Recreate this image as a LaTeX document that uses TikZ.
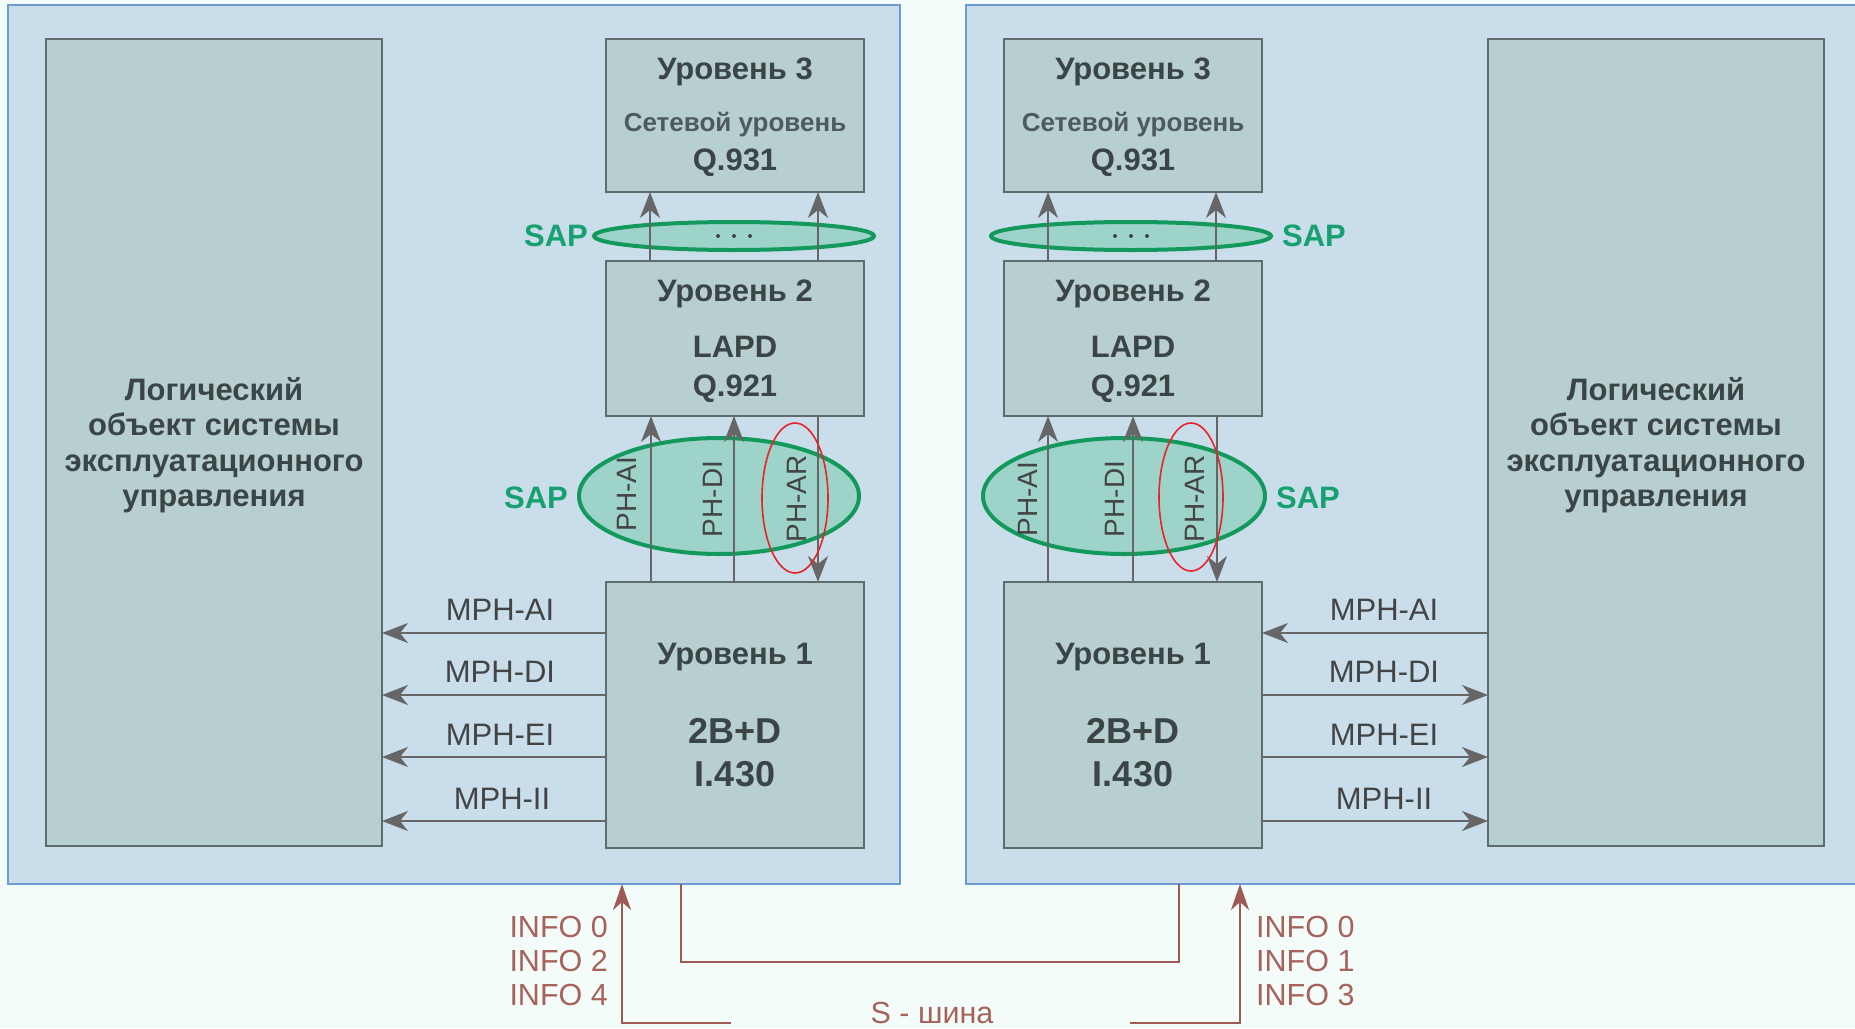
\documentclass[tikz,border=0pt]{standalone}
\usepackage{fontspec}
\setmainfont{Liberation Sans}
\usetikzlibrary{arrows.meta,calc,shapes.geometric}

\definecolor{pagebg}{HTML}{F3FCF8}
\definecolor{panelfill}{HTML}{C9DEEA}
\definecolor{paneledge}{HTML}{6C9CD6}
\definecolor{boxfill}{HTML}{B8CFD2}
\definecolor{boxedge}{HTML}{5E6C6C}
\definecolor{boxtext}{HTML}{3B4545}
\definecolor{subtext}{HTML}{4E5B5B}
\definecolor{sapfill}{HTML}{9DD3C9}
\definecolor{sapedge}{HTML}{12995B}
\definecolor{saptext}{HTML}{17A070}
\definecolor{redline}{HTML}{E8232A}
\definecolor{arrowgray}{HTML}{666666}
\definecolor{labeltext}{HTML}{444444}
\definecolor{busline}{HTML}{A05A55}
\definecolor{bustext}{HTML}{A8625C}

\tikzset{
  panel/.style={draw=paneledge, fill=panelfill, line width=2pt, inner sep=0pt, outer sep=0pt},
  layerbox/.style={draw=boxedge, fill=boxfill, line width=2pt, inner sep=0pt, outer sep=0pt},
  ttl/.style={font=\fontsize{31}{37}\selectfont\bfseries, text=boxtext, inner sep=0pt},
  subttl/.style={font=\fontsize{26}{31}\selectfont\bfseries, text=subtext, inner sep=0pt},
  stdttl/.style={font=\fontsize{36}{42}\selectfont\bfseries, text=boxtext, inner sep=0pt},
  bigttl/.style={font=\fontsize{31}{35.5}\selectfont\bfseries, text=boxtext, align=center, inner sep=0pt},
  sapring/.style={ellipse, draw=sapedge, fill=sapfill, line width=4pt, inner sep=0pt, outer sep=0pt},
  redring/.style={ellipse, draw=redline, line width=1.6pt, inner sep=0pt},
  saplbl/.style={font=\fontsize{31}{36}\selectfont\bfseries, text=saptext, inner sep=0pt},
  phlbl/.style={font=\fontsize{28}{33}\selectfont, text=labeltext, rotate=90, inner sep=0pt},
  mphlbl/.style={font=\fontsize{31}{36}\selectfont, text=labeltext, inner sep=0pt},
  link/.style={draw=arrowgray, line width=2pt, -{Stealth[length=26pt,width=20pt,inset=8pt]}},
  bus/.style={draw=busline, line width=2.4pt},
  busarrow/.style={bus, -{Stealth[length=26pt,width=18pt,inset=8pt]}},
  infotxt/.style={font=\fontsize{30.5}{34}\selectfont, text=bustext, inner sep=0pt},
  dotmark/.style={fill=boxtext, circle, inner sep=0pt, minimum size=4pt},
}

\begin{document}
\begin{tikzpicture}[x=1pt, y=-1pt]
\useasboundingbox (0,0) rectangle (1855,1028);
\fill[pagebg] (0,0) rectangle (1855,1028);

% two stations
\node[panel, minimum width=892pt, minimum height=879pt] (lp) at (454,444.5) {};
\node[panel, minimum width=909pt, minimum height=879pt] (rp) at (1420.5,444.5) {};

% management entity blocks
\node[layerbox, minimum width=336pt, minimum height=807pt] (bbL) at (214,442.5) {};
\node[bigttl] at (214,445) {Логический\\объект системы\\эксплуатационного\\управления};
\node[layerbox, minimum width=336pt, minimum height=807pt] (bbR) at (1656,442.5) {};
\node[bigttl] at (1656,445) {Логический\\объект системы\\эксплуатационного\\управления};

% protocol layers, left station
\node[layerbox, minimum width=258pt, minimum height=153pt] (l3L) at (735,115.5) {};
\node[layerbox, minimum width=258pt, minimum height=155pt] (l2L) at (735,338.5) {};
\node[layerbox, minimum width=258pt, minimum height=266pt] (l1L) at (735,715) {};
% protocol layers, right station
\node[layerbox, minimum width=258pt, minimum height=153pt] (l3R) at (1133,115.5) {};
\node[layerbox, minimum width=258pt, minimum height=155pt] (l2R) at (1133,338.5) {};
\node[layerbox, minimum width=258pt, minimum height=266pt] (l1R) at (1133,715) {};

% layer captions
\foreach \cx in {735,1133}{
  \node[ttl] at (\cx,72) {Уровень 3};
  \node[subttl] at (\cx,125) {Сетевой уровень};
  \node[ttl] at (\cx,163) {Q.931};
  \node[ttl] at (\cx,294) {Уровень 2};
  \node[ttl] at (\cx,347) {LAPD};
  \node[ttl] at (\cx,389) {Q.921};
  \node[ttl] at (\cx,657) {Уровень 1};
  \node[stdttl] at (\cx,731) {2B+D};
  \node[stdttl] at (\cx,774) {I.430};
}

% service access points
\node[sapring, minimum width=280pt, minimum height=28pt] (sapTopL) at (734,236) {};
\node[sapring, minimum width=280pt, minimum height=28pt] (sapTopR) at (1131,236) {};
\foreach \cx in {734,1131}{
  \node[dotmark] at (\cx-16,236) {};
  \node[dotmark] at (\cx,236) {};
  \node[dotmark] at (\cx+16,236) {};
}
\node[sapring, minimum width=280pt, minimum height=116pt] (sapL) at (719,496) {};
\node[sapring, minimum width=282pt, minimum height=116pt] (sapR) at (1124,496) {};

\node[saplbl] at (556,236) {SAP};
\node[saplbl] at (536,498) {SAP};
\node[saplbl] at (1314,236) {SAP};
\node[saplbl] at (1308,498) {SAP};

% primitives between layer 2 and layer 3
\draw[link] ($(l2L.north west)+(44,0)$) -- ($(l3L.south west)+(44,0)$);
\draw[link] ($(l2L.north west)+(212,0)$) -- ($(l3L.south west)+(212,0)$);
\draw[link] ($(l2R.north west)+(44,0)$) -- ($(l3R.south west)+(44,0)$);
\draw[link] ($(l2R.north west)+(212,0)$) -- ($(l3R.south west)+(212,0)$);

% PH primitives between layer 1 and layer 2
\draw[link] ($(l1L.north west)+(45,0)$) -- ($(l2L.south west)+(45,0)$);
\draw[link] ($(l1L.north west)+(128,0)$) -- ($(l2L.south west)+(128,0)$);
\draw[link] ($(l2L.south west)+(212,0)$) -- ($(l1L.north west)+(212,0)$);
\draw[link] ($(l1R.north west)+(44,0)$) -- ($(l2R.south west)+(44,0)$);
\draw[link] ($(l1R.north west)+(129,0)$) -- ($(l2R.south west)+(129,0)$);
\draw[link] ($(l2R.south west)+(213,0)$) -- ($(l1R.north west)+(213,0)$);

\node[phlbl] at (627,494) {PH-AI};
\node[phlbl] at (713,499) {PH-DI};
\node[phlbl] at (797,499) {PH-AR};
\node[phlbl] at (1028,499) {PH-AI};
\node[phlbl] at (1115,499) {PH-DI};
\node[phlbl] at (1195,499) {PH-AR};

\node[redring, minimum width=66pt, minimum height=150pt] (markL) at (795,498) {};
\node[redring, minimum width=64pt, minimum height=148pt] (markR) at (1191,497) {};

% MPH primitives to the management entity
\coordinate (ya) at (0,633);
\coordinate (yb) at (0,695);
\coordinate (yc) at (0,757);
\coordinate (yd) at (0,821);

\draw[link] (l1L.west |- ya) -- (bbL.east |- ya);
\draw[link] (l1L.west |- yb) -- (bbL.east |- yb);
\draw[link] (l1L.west |- yc) -- (bbL.east |- yc);
\draw[link] (l1L.west |- yd) -- (bbL.east |- yd);
\node[mphlbl] at (500,610) {MPH-AI};
\node[mphlbl] at (500,672) {MPH-DI};
\node[mphlbl] at (500,735) {MPH-EI};
\node[mphlbl] at (502,799) {MPH-II};

\draw[link] (bbR.west |- ya) -- (l1R.east |- ya);
\draw[link] (l1R.east |- yb) -- (bbR.west |- yb);
\draw[link] (l1R.east |- yc) -- (bbR.west |- yc);
\draw[link] (l1R.east |- yd) -- (bbR.west |- yd);
\node[mphlbl] at (1384,610) {MPH-AI};
\node[mphlbl] at (1384,672) {MPH-DI};
\node[mphlbl] at (1384,735) {MPH-EI};
\node[mphlbl] at (1384,799) {MPH-II};

% S bus between the stations
\coordinate (busL) at (731,1023);
\coordinate (cornerL) at (622,1023);
\coordinate (busR) at (1130,1023);
\coordinate (cornerR) at (1240,1023);
\coordinate (loopL) at (681,962);
\coordinate (loopR) at (1179,962);

\draw[busarrow] (busL) -- (cornerL) -- (cornerL |- lp.south);
\draw[busarrow] (busR) -- (cornerR) -- (cornerR |- rp.south);
\draw[bus] (loopL |- lp.south) -- (loopL) -- (loopR) -- (loopR |- rp.south);

\node[infotxt, anchor=base] at (932,1023) {S - шина};
\node[infotxt, align=right, anchor=east] at (608,961) {INFO 0\\INFO 2\\INFO 4};
\node[infotxt, align=left, anchor=west] at (1256,961) {INFO 0\\INFO 1\\INFO 3};
\end{tikzpicture}
\end{document}
